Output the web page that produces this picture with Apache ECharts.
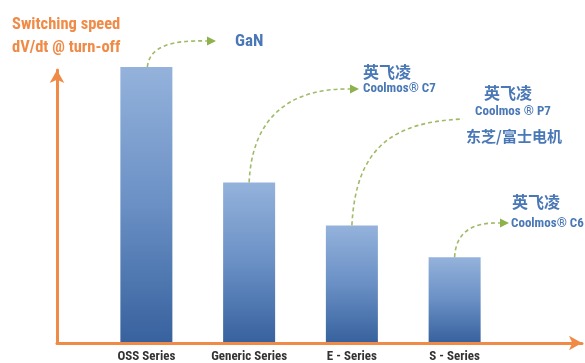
<!DOCTYPE html>
<html><head><meta charset="utf-8">
<script src="https://cdn.jsdelivr.net/npm/echarts@6/dist/echarts.min.js"></script>
<style>html,body{margin:0;padding:0;background:#fff}#c{width:585px;height:363px}</style>
</head><body><div id="c"></div>
<script>
const categories = ['OSS Series', 'Generic Series', 'E - Series', 'S - Series'];
const speedValues = [100, 58, 42.4, 30.8];
const titleLines = ['Switching speed', 'dV/dt @ turn-off'];
const gaNLabel = ['GaN'];
const c7Label = ['英飞凌', 'Coolmos® C7'];
const p7Label = ['英飞凌', 'Coolmos ® P7', '东芝/富士电机'];
const c6Label = ['英飞凌', 'Coolmos® C6'];

const NARROW = "'Roboto Condensed','Open Sans Condensed',sans-serif";
const CJK = "'Noto Sans CJK SC',sans-serif";
const ORANGE = '#f08a47';
const BLUE = '#4a78b6';
const GREEN = '#9fbb68';

const chart = echarts.init(document.getElementById('c'), null, {renderer: 'canvas'});
const barGrad = new echarts.graphic.LinearGradient(0, 0, 0, 1, [
  {offset: 0, color: '#94b2db'},
  {offset: 0.5, color: '#6a90c5'},
  {offset: 1, color: '#38629e'}
]);
chart.setOption({
  animation: false,
  backgroundColor: '#fff',
  grid: [
    {left: 95, width: 411, top: 67, bottom: 20},
    {left: 57, right: 3, top: 70, bottom: 20}
  ],
  xAxis: [
    {type: 'category', gridIndex: 0, data: categories,
     axisLine: {show: false}, axisTick: {show: false},
     axisLabel: {interval: 0, margin: 8, color: '#333333', fontFamily: NARROW, fontWeight: 'bold', fontSize: 13}},
    {type: 'value', gridIndex: 1, min: 0, max: 1,
     axisLine: {show: true, onZero: false, symbol: ['none', 'arrow'], symbolSize: [11, 13],
                lineStyle: {color: ORANGE, width: 3}},
     axisTick: {show: false}, axisLabel: {show: false}, splitLine: {show: false}}
  ],
  yAxis: [
    {type: 'value', gridIndex: 0, min: 0, max: 100,
     axisLine: {show: false}, axisTick: {show: false}, axisLabel: {show: false}, splitLine: {show: false}},
    {type: 'value', gridIndex: 1, min: 0, max: 1,
     axisLine: {show: true, onZero: false, symbol: ['none', 'arrow'], symbolSize: [11, 13],
                lineStyle: {color: ORANGE, width: 3}},
     axisTick: {show: false}, axisLabel: {show: false}, splitLine: {show: false}}
  ],
  series: [
    {type: 'bar', xAxisIndex: 0, yAxisIndex: 0, data: speedValues, barWidth: 52,
     itemStyle: {color: barGrad}, z: 3},
    {type: 'scatter', xAxisIndex: 1, yAxisIndex: 1, data: [], silent: true}
  ]
});

function pt(i) { return chart.convertToPixel({xAxisIndex: 0, yAxisIndex: 0}, [i, speedValues[i]]); }
function curve(s, cp1, cp2, e) {
  return {type: 'bezierCurve', silent: true, z: 10,
    shape: {x1: s[0], y1: s[1], cpx1: cp1[0], cpy1: cp1[1], cpx2: cp2[0], cpy2: cp2[1], x2: e[0], y2: e[1]},
    style: {stroke: GREEN, lineWidth: 1.6, lineDash: [4, 3], fill: null}};
}
function head(e) {
  return {type: 'polygon', silent: true, z: 10,
    shape: {points: [[e[0], e[1] - 4.5], [e[0] + 9, e[1]], [e[0], e[1] + 4.5]]},
    style: {fill: '#8db24c'}};
}
function txt(t, x, y, font, fill, align) {
  return {type: 'text', silent: true, z: 10,
    style: {text: t, x: x, y: y, font: font, fill: fill, textAlign: align || 'left', textVerticalAlign: 'middle'}};
}

const p0 = pt(0), p1 = pt(1), p2 = pt(2), p3 = pt(3);
const g = [];
g.push(txt(titleLines[0], 12, 25, 'bold 16.5px ' + NARROW, ORANGE));
g.push(txt(titleLines[1], 12, 48, 'bold 16.5px ' + NARROW, ORANGE));
g.push(curve([p0[0] + 1, p0[1]], [p0[0] + 3, 46], [172, 40], [207, 41]));
g.push(head([207, 41]));
g.push(txt(gaNLabel[0], 235, 42, 'bold 17px ' + NARROW, BLUE));
g.push(curve([p1[0], p1[1]], [p1[0] + 3, 115], [292, 88], [350, 89]));
g.push(head([350, 89]));
g.push(txt(c7Label[0], 363, 72, 'bold 16px ' + CJK, BLUE));
g.push(txt(c7Label[1], 363, 89, 'bold 13px ' + NARROW, BLUE));
g.push(curve([p2[0], p2[1]], [p2[0] + 4, 148], [392, 122], [463, 119]));
g.push(txt(p7Label[0], 508, 93, 'bold 16px ' + CJK, BLUE, 'center'));
g.push(txt(p7Label[1], 513, 112, 'bold 13px ' + NARROW, BLUE, 'center'));
g.push(txt(p7Label[2], 514, 136, 'bold 15px ' + CJK, BLUE, 'center'));
g.push(curve([p3[0], p3[1]], [p3[0] + 1, 234], [470, 222], [500, 223]));
g.push(head([500, 223]));
g.push(txt(c6Label[0], 512, 202, 'bold 16px ' + CJK, BLUE));
g.push(txt(c6Label[1], 511, 224, 'bold 13px ' + NARROW, BLUE));

chart.setOption({graphic: g});
</script></body></html>
